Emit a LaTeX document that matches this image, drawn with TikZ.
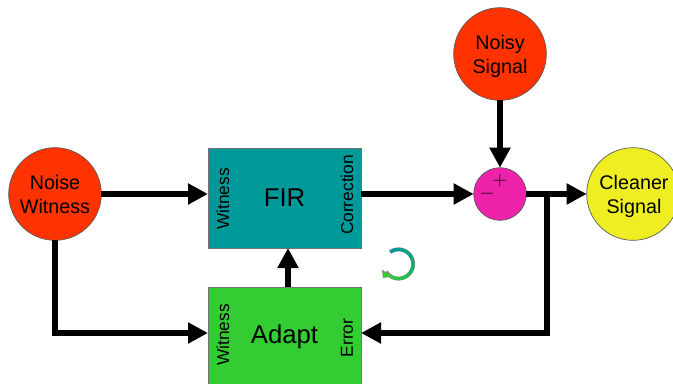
\documentclass[tikz,border=0pt]{standalone}
\usepackage{fontspec}
\setmainfont{Liberation Sans}
\usetikzlibrary{arrows.meta,calc}
\definecolor{redc}{HTML}{FF3300}
\definecolor{tealc}{HTML}{009999}
\definecolor{greenc}{HTML}{33CC33}
\definecolor{magc}{HTML}{EE22AA}
\definecolor{yelc}{HTML}{EEEE22}
\newcommand{\twolines}[2]{\rule{0pt}{14.8pt}#1\\\rule[-3.2pt]{0pt}{3.2pt}#2}
\tikzset{
  x=0.75pt,y=-0.75pt,
  disc/.style={circle,draw=black!65,line width=0.5pt,minimum size=69.5pt,inner sep=0pt,outer sep=0pt,align=center,font=\fontsize{14.8pt}{17.8pt}\selectfont},
  block/.style={rectangle,draw=black!55,line width=0.5pt,minimum width=114.75pt,minimum height=75pt,inner sep=0pt,outer sep=0pt,font=\fontsize{19.3pt}{23pt}\selectfont},
  port/.style={rotate=90,inner sep=0pt,font=\fontsize{13pt}{15pt}\selectfont},
  wire/.style={line width=4.7pt,draw=black,line join=miter},
  flow/.style={wire,-{Triangle[length=15pt,width=15pt]}},
  sgn/.style={inner sep=0pt,font=\fontsize{15.5pt}{18pt}\selectfont}
}
\begin{document}
\begin{tikzpicture}
\useasboundingbox (0,0) rectangle (673,384);
\clip (0,0) rectangle (673,384);
\node[disc,fill=redc] (noise) at (55,194) {\twolines{Noise}{Witness}};
\node[disc,fill=redc] (noisy) at (500,54) {\twolines{Noisy}{Signal}};
\node[disc,fill=yelc] (clean) at (633,194) {\twolines{\hspace*{1.5pt}Cleaner}{\hspace*{1.5pt}Signal}};
\node[circle,draw=black!65,line width=0.5pt,fill=magc,minimum size=39.5pt,inner sep=0pt,outer sep=0pt] (sum) at (500,194) {};
\node[block,fill=tealc] (fir) at (284.5,198) {FIR};
\node[block,fill=greenc] (adapt) at (284.5,337) {Adapt};
\node[port] (p1) at (223,199) {Witness};
\node[port] (p2) at (347,195) {Correction};
\node[port] (p3) at (223,335) {Witness};
\node[port] (p4) at (347,338) {Error};
\node[sgn] (plus) at (500,181) {$+$};
\node[sgn] (minus) at (487,194) {$-$};
\coordinate (tap) at (547,194);
\coordinate (fb) at (547,333);
\coordinate (dn) at (55,333);
\coordinate (upb) at (288,287);
\coordinate (upt) at (288,248);
\draw[flow] (noise.east) -- (noise.east -| fir.west);
\draw[flow] (noise.south) -- (dn) -- (dn -| adapt.west);
\draw[flow] (upb) -- (upt);
\draw[flow] (sum.west -| fir.east) -- (sum.west);
\draw[flow] (noisy.south) -- (sum.north);
\draw[flow] (sum.east) -- (clean.west);
\draw[wire] (tap) -- (fb);
\draw[flow] ($(fb)+(2.35pt,0)$) -- (fb -| adapt.east);
% cycle symbol
\draw[black!45,line width=2.9pt] ($(398.5,264)+(125:11pt)$) arc[start angle=125,end angle=-148,radius=11pt];
\foreach \a/\mix in {125/100,105/95,85/90,65/85,45/78,25/70,5/60,-15/50,-35/40,-55/30,-75/20,-95/10,-115/3}{
  \pgfmathsetmacro{\b}{\a-21}
  \colorlet{segc}{tealc!\mix!greenc}
  \draw[segc,line width=2.4pt] ($(398.5,264)+(\a:11pt)$) arc[start angle=\a,end angle=\b,radius=11pt];
}
\fill[greenc,draw=black!45,line width=0.25pt] (382,270) -- (383.2,278) -- (392,276) -- cycle;
\end{tikzpicture}
\end{document}
